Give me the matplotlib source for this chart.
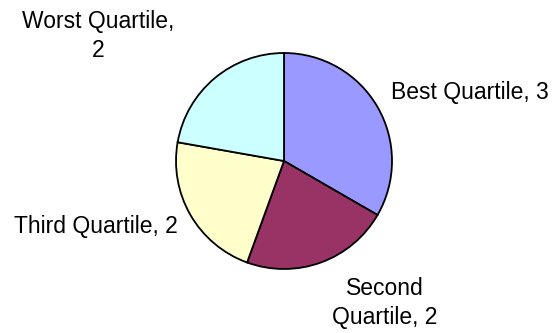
import matplotlib.pyplot as plt

categories = ["Best Quartile", "Second Quartile", "Third Quartile", "Worst Quartile"]
values = [3, 2, 2, 2]
colors = ["#9999FF", "#993366", "#FFFFCC", "#CCFFFF"]

plt.rcParams['font.family'] = ['Liberation Sans', 'DejaVu Sans']

fig = plt.figure(figsize=(5.6, 3.33), dpi=100)
ax = fig.add_axes([0, 0, 1, 1])

ax.pie(values, colors=colors, startangle=90, counterclock=False,
       center=(284, 172), radius=108, frame=True,
       wedgeprops=dict(edgecolor='black', linewidth=1.3))
ax.set_xlim(0, 560)
ax.set_ylim(0, 333)
ax.axis('off')

# label positions (pixels from top-left), text from the data
label_pos = [(470, 92), (385, 303), (96, 226), (98, 36)]
label_text = [
    f"{categories[0]}, {values[0]}",
    f"Second\nQuartile, {values[1]}",
    f"{categories[2]}, {values[2]}",
    f"Worst Quartile,\n{values[3]}",
]
for (x, y), t in zip(label_pos, label_text):
    ax.text(x, 333 - y, t, ha='center', va='center', fontsize=16.5,
            linespacing=1.3)

fig.savefig("out.png", dpi=100)
